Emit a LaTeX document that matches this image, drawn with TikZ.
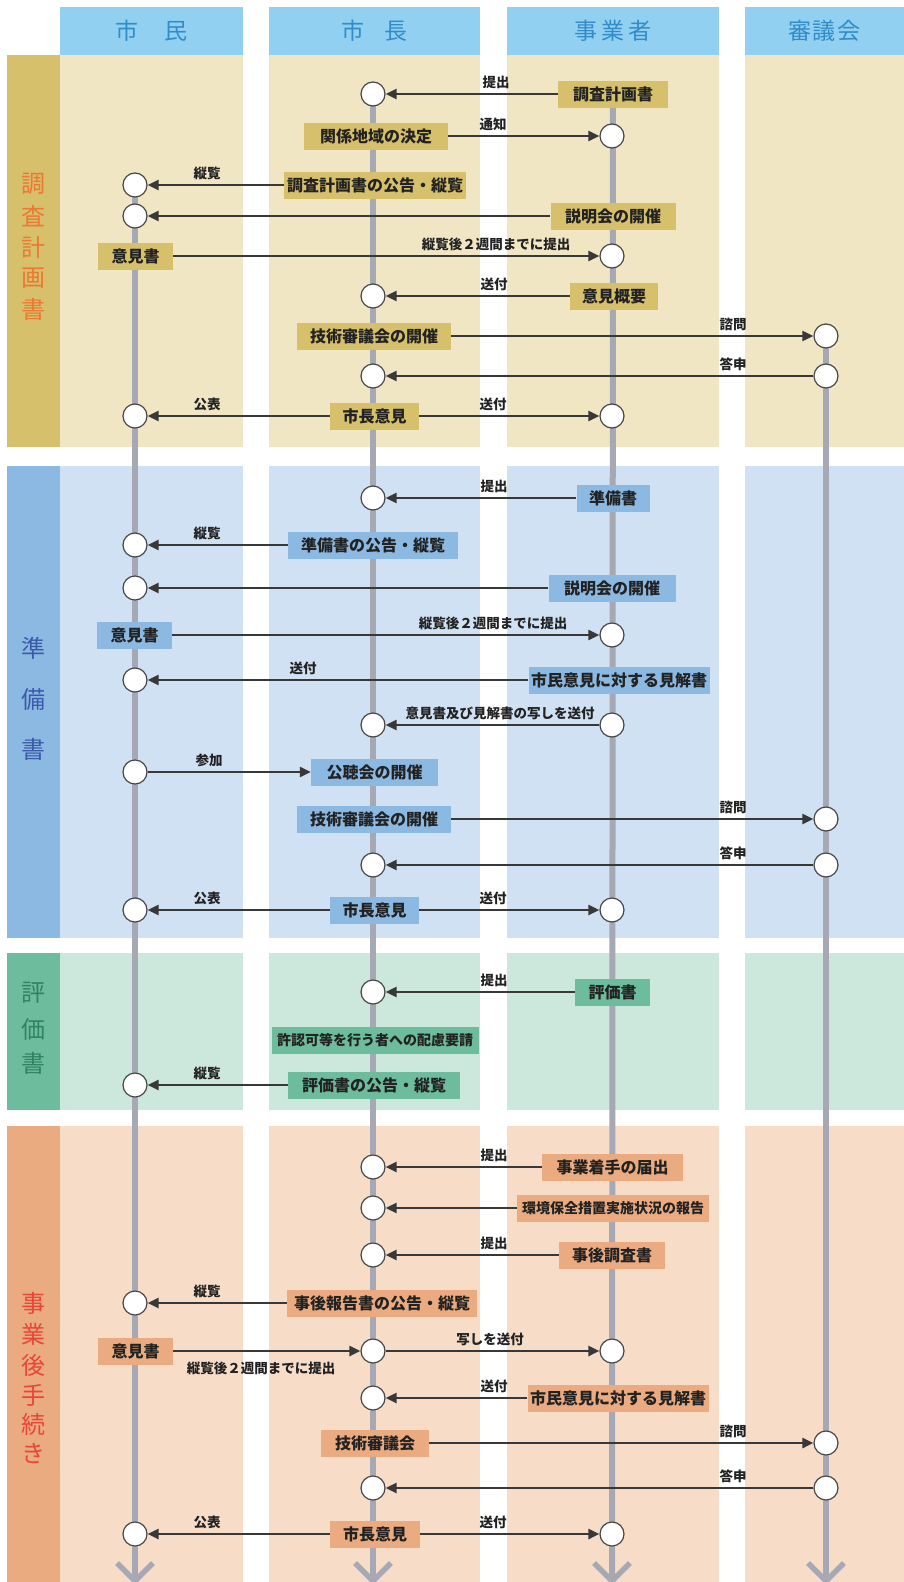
\documentclass[tikz,border=0pt]{standalone}
\usepackage{fontspec}
\setmainfont{Noto Sans CJK JP}
\usetikzlibrary{arrows.meta}
\pgfdeclarelayer{back}
\pgfdeclarelayer{mid}
\pgfsetlayers{back,mid,main}
\definecolor{hdbg}{RGB}{145,208,240}
\definecolor{hdtx}{RGB}{50,140,200}
\definecolor{pAbg}{RGB}{241,230,196}
\definecolor{pAst}{RGB}{214,192,108}
\definecolor{pAtx}{RGB}{236,120,50}
\definecolor{pBbg}{RGB}{208,225,243}
\definecolor{pBst}{RGB}{140,185,226}
\definecolor{pBtx}{RGB}{60,90,170}
\definecolor{pCbg}{RGB}{204,232,220}
\definecolor{pCst}{RGB}{110,188,158}
\definecolor{pCtx}{RGB}{50,130,100}
\definecolor{pDbg}{RGB}{247,221,200}
\definecolor{pDst}{RGB}{235,171,128}
\definecolor{pDtx}{RGB}{232,70,55}
\definecolor{txt}{RGB}{34,34,34}
\definecolor{arrc}{RGB}{56,56,56}
\definecolor{cdraw}{RGB}{70,70,70}
\definecolor{lifec}{RGB}{166,169,180}
\tikzset{
  bx/.style={fill=#1, minimum height=27pt, inner xsep=2pt, inner ysep=0pt,
    font=\bfseries\fontsize{16}{16}\selectfont, text=txt},
  sbx/.style={bx=#1, font=\bfseries\fontsize{14}{14}\selectfont},
  cir/.style={circle, draw=cdraw, line width=1.2pt, fill=white, minimum size=24pt, inner sep=0pt},
  arr/.style={draw=arrc, line width=2.6pt, -{Triangle[length=11pt,width=10pt]}},
  lab/.style={font=\bfseries\fontsize{13.5}{14}\selectfont, text=txt, inner sep=0pt},
  life/.style={draw=lifec, line width=6pt},
  hd/.style={fill=hdbg, minimum height=48pt, inner sep=0pt, text=hdtx,
    font=\fontsize{23}{23}\selectfont},
  ph/.style={inner sep=0pt, font=\fontsize{24}{24}\selectfont, text=#1}
}
\begin{document}
\begin{tikzpicture}[x=1pt,y=-1pt]
\useasboundingbox (0,0) rectangle (904,1582);
\begin{pgfonlayer}{back}
\fill[white] (0,0) rectangle (904,1582);
\foreach \ya/\yb/\bg/\st in {55/447/pAbg/pAst, 466/938/pBbg/pBst, 953/1110/pCbg/pCst, 1126/1582/pDbg/pDst}{
  \fill[\st] (7,\ya) rectangle (60,\yb);
  \foreach \xa/\xb in {60/243, 269/480, 507/719, 745/904}
    \fill[\bg] (\xa,\ya) rectangle (\xb,\yb);
}
\end{pgfonlayer}

% headers
\node[hd, minimum width=183pt] (hA) at (151.5,31) {市\hspace{26pt}民};
\node[hd, minimum width=211pt] (hB) at (374.5,31) {市\hspace{20pt}長};
\node[hd, minimum width=212pt] (hC) at (613,31) {事\kern4pt業\kern4pt者};
\node[hd, minimum width=159pt] (hD) at (824.5,31) {審\kern2pt議\kern2pt会};

% phase labels
\foreach \c/\y [count=\i] in {調/184, 査/216, 計/247, 画/278, 書/309}
  \node[ph=pAtx] (pa\i) at (33.5,\y) {\c};
\foreach \c/\y [count=\i] in {準/648, 備/699, 書/749}
  \node[ph=pBtx] (pb\i) at (33.5,\y) {\c};
\foreach \c/\y [count=\i] in {評/993, 価/1029, 書/1063}
  \node[ph=pCtx] (pc\i) at (33.5,\y) {\c};
\foreach \c/\y [count=\i] in {事/1303, 業/1334, 後/1365, 手/1395, 続/1424, き/1453}
  \node[ph=pDtx] (pd\i) at (33.5,\y) {\c};

% ---------- phase 1 ----------
\node[bx=pAst, minimum width=110pt] (b1) at (613,94) {調査計画書};
\node[cir] (c1) at (373,94) {};
\node[bx=pAst, minimum width=144pt] (b2) at (376,136) {関係地域の決定};
\node[cir] (c2) at (612,136) {};
\node[bx=pAst, minimum width=182pt] (b3) at (375,185) {調査計画書の公告・縦覧};
\node[cir] (c3) at (135,185) {};
\node[bx=pAst, minimum width=125pt] (b4) at (613,216) {説明会の開催};
\node[cir] (c4) at (135,216) {};
\node[bx=pAst, minimum width=75pt] (b5) at (135.5,256) {意見書};
\node[cir] (c5) at (612,256) {};
\node[bx=pAst, minimum width=88pt] (b6) at (614,296) {意見概要};
\node[cir] (c6) at (373,296) {};
\node[bx=pAst, minimum width=154pt] (b7) at (374,336) {技術審議会の開催};
\node[cir] (c7) at (826,336) {};
\node[cir] (c8m) at (373,376) {};
\node[cir] (c8s) at (826,376) {};
\node[bx=pAst, minimum width=89pt] (b9) at (374.5,416) {市長意見};
\node[cir] (c9a) at (135,416) {};
\node[cir] (c9c) at (612,416) {};

% ---------- phase 2 ----------
\node[bx=pBst, minimum width=73pt] (b10) at (613,498) {準備書};
\node[cir] (c10) at (373,498) {};
\node[bx=pBst, minimum width=170pt] (b11) at (373,545) {準備書の公告・縦覧};
\node[cir] (c11) at (135,545) {};
\node[bx=pBst, minimum width=127pt] (b12) at (612,588) {説明会の開催};
\node[cir] (c12) at (135,588) {};
\node[bx=pBst, minimum width=75pt] (b13) at (134.5,635) {意見書};
\node[cir] (c13) at (612,635) {};
\node[bx=pBst, minimum width=181pt] (b14) at (619,680) {市民意見に対する見解書};
\node[cir] (c14) at (135,680) {};
\node[cir] (c15m) at (373,725) {};
\node[cir] (c15c) at (612,725) {};
\node[cir] (c16) at (135,772) {};
\node[bx=pBst, minimum width=127pt] (b16) at (374.5,772) {公聴会の開催};
\node[bx=pBst, minimum width=154pt] (b17) at (374,819) {技術審議会の開催};
\node[cir] (c17) at (826,819) {};
\node[cir] (c18m) at (373,865) {};
\node[cir] (c18s) at (826,865) {};
\node[bx=pBst, minimum width=89pt] (b19) at (374.5,910) {市長意見};
\node[cir] (c19a) at (135,910) {};
\node[cir] (c19c) at (612,910) {};

% ---------- phase 3 ----------
\node[bx=pCst, minimum width=75pt] (b20) at (612.5,992) {評価書};
\node[cir] (c20) at (373,992) {};
\node[sbx=pCst, minimum width=207pt] (b21) at (375,1040) {許認可等を行う者への配慮要請};
\node[bx=pCst, minimum width=172pt] (b22) at (374,1085) {評価書の公告・縦覧};
\node[cir] (c22) at (135,1085) {};

% ---------- phase 4 ----------
\node[bx=pDst, minimum width=141pt] (b23) at (612.5,1167) {事業着手の届出};
\node[cir] (c23) at (373,1167) {};
\node[sbx=pDst, minimum width=192pt] (b24) at (613,1208) {環境保全措置実施状況の報告};
\node[cir] (c24) at (373,1208) {};
\node[bx=pDst, minimum width=106pt] (b25) at (612,1255) {事後調査書};
\node[cir] (c25) at (373,1255) {};
\node[bx=pDst, minimum width=190pt] (b26) at (382,1303) {事後報告書の公告・縦覧};
\node[cir] (c26) at (135,1303) {};
\node[bx=pDst, minimum width=75pt] (b27) at (135.5,1351) {意見書};
\node[cir] (c27m) at (373,1351) {};
\node[cir] (c27c) at (612,1351) {};
\node[bx=pDst, minimum width=181pt] (b28) at (618,1398) {市民意見に対する見解書};
\node[cir] (c28) at (373,1398) {};
\node[bx=pDst, minimum width=108pt] (b29) at (375,1443) {技術審議会};
\node[cir] (c29) at (826,1443) {};
\node[cir] (c30m) at (373,1488) {};
\node[cir] (c30s) at (826,1488) {};
\node[bx=pDst, minimum width=90pt] (b31) at (375,1534) {市長意見};
\node[cir] (c31a) at (135,1534) {};
\node[cir] (c31c) at (612,1534) {};

% bottom ends of lifelines
\coordinate (eA) at (135,1582);
\coordinate (eB) at (373,1582);
\coordinate (eC) at (612,1582);
\coordinate (eD) at (826,1582);

% lifelines and chevrons
\begin{pgfonlayer}{mid}
\draw[life] (c3.center) -- (eA);
\draw[life] (c1.center) -- (eB);
\draw[life] (b1.center) -- (eC);
\draw[life] (c7.center) -- (eD);
\foreach \e in {eA,eB,eC,eD}
  \draw[life, line width=5.5pt] ([shift={(-18,-19)}]\e) -- ([shift={(0,-1)}]\e) -- ([shift={(18,-19)}]\e);
\end{pgfonlayer}

% ---------- arrows & labels ----------
% phase 1
\draw[arr] (b1) -- (c1);
\node[lab] (l1) at (496,82) {提出};
\draw[arr] (b2) -- (c2);
\node[lab] (l2) at (493,124) {通知};
\draw[arr] (b3) -- (c3);
\node[lab] (l3) at (207,173) {縦覧};
\draw[arr] (b4) -- (c4);
\draw[arr] (b5) -- (c5);
\node[lab] (l5) at (496,244) {縦覧後２週間までに提出};
\draw[arr] (b6) -- (c6);
\node[lab] (l6) at (494,284) {送付};
\draw[arr] (b7) -- (c7);
\node[lab] (l7) at (733,324) {諮問};
\draw[arr] (c8s) -- (c8m);
\node[lab] (l8) at (733,364) {答申};
\draw[arr] (b9) -- (c9a);
\draw[arr] (b9) -- (c9c);
\node[lab] (l9a) at (207,404) {公表};
\node[lab] (l9c) at (493,404) {送付};

% phase 2
\draw[arr] (b10) -- (c10);
\node[lab] (l10) at (494,486) {提出};
\draw[arr] (b11) -- (c11);
\node[lab] (l11) at (207,533) {縦覧};
\draw[arr] (b12) -- (c12);
\draw[arr] (b13) -- (c13);
\node[lab] (l13) at (493,623) {縦覧後２週間までに提出};
\draw[arr] (b14) -- (c14);
\node[lab] (l14) at (303,668) {送付};
\draw[arr] (c15c) -- (c15m);
\node[lab] (l15) at (500,713) {意見書及び見解書の写しを送付};
\draw[arr] (c16) -- (b16);
\node[lab] (l16) at (209,760) {参加};
\draw[arr] (b17) -- (c17);
\node[lab] (l17) at (733,807) {諮問};
\draw[arr] (c18s) -- (c18m);
\node[lab] (l18) at (733,853) {答申};
\draw[arr] (b19) -- (c19a);
\draw[arr] (b19) -- (c19c);
\node[lab] (l19a) at (207,898) {公表};
\node[lab] (l19c) at (493,898) {送付};

% phase 3
\draw[arr] (b20) -- (c20);
\node[lab] (l20) at (494,980) {提出};
\draw[arr] (b22) -- (c22);
\node[lab] (l22) at (207,1073) {縦覧};

% phase 4
\draw[arr] (b23) -- (c23);
\node[lab] (l23) at (494,1155) {提出};
\draw[arr] (b24) -- (c24);
\draw[arr] (b25) -- (c25);
\node[lab] (l25) at (494,1243) {提出};
\draw[arr] (b26) -- (c26);
\node[lab] (l26) at (207,1291) {縦覧};
\draw[arr] (b27) -- (c27m);
\draw[arr] (c27m) -- (c27c);
\node[lab] (l27a) at (490,1339) {写しを送付};
\node[lab] (l27b) at (261,1368) {縦覧後２週間までに提出};
\draw[arr] (b28) -- (c28);
\node[lab] (l28) at (494,1386) {送付};
\draw[arr] (b29) -- (c29);
\node[lab] (l29) at (733,1431) {諮問};
\draw[arr] (c30s) -- (c30m);
\node[lab] (l30) at (733,1476) {答申};
\draw[arr] (b31) -- (c31a);
\draw[arr] (b31) -- (c31c);
\node[lab] (l31a) at (207,1522) {公表};
\node[lab] (l31c) at (493,1522) {送付};
\end{tikzpicture}
\end{document}
